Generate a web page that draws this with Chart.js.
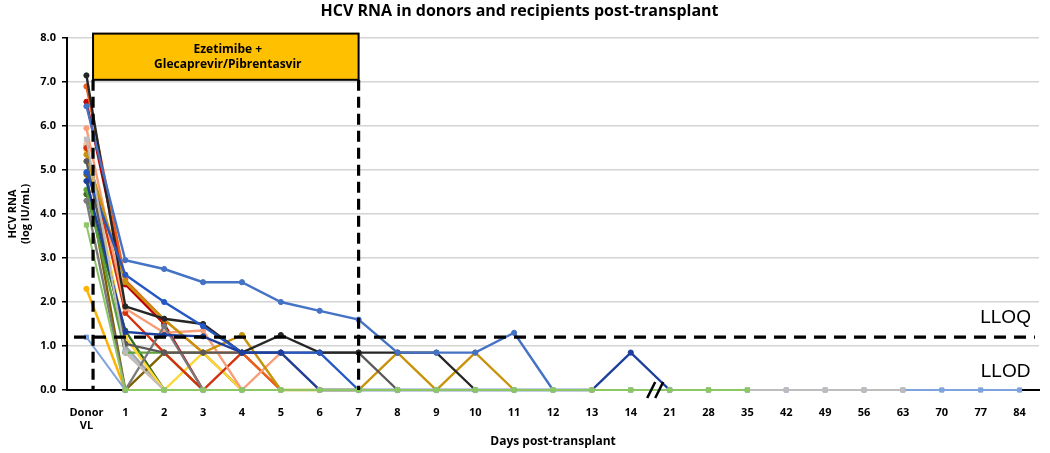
<!DOCTYPE html>
<html>
<head>
<meta charset="utf-8">
<script src="https://cdn.jsdelivr.net/npm/chart.js@4.4.1/dist/chart.umd.min.js"></script>
<style>
  html, body { margin: 0; padding: 0; background: #fff; }
  #wrap { width: 1050px; height: 453px; }
</style>
</head>
<body>
<div id="wrap"><canvas id="chart" width="1050" height="453"></canvas></div>
<script>
// x categories: donor viral load, then days post-transplant
const categories = [['Donor', 'VL'], '1', '2', '3', '4', '5', '6', '7', '8', '9', '10', '11', '12', '13', '14',
    '21', '28', '35', '42', '49', '56', '63', '70', '77', '84']
const yTicks = [0, 1, 2, 3, 4, 5, 6, 7, 8]

// log IU/mL per recipient (undetectable = 0)
const greenBase = [3.75, 0, 0, 0, 0, 0, 0, 0, 0, 0, 0, 0, 0, 0, 0, 0, 0, 0]
const grayBase = [5.7, 0.85, 0, 0, 0, 0, 0, 0, 0, 0, 0, 0, 0, 0, 0, 0, 0, 0, 0, 0, 0, 0]
const blueBase = [1.2, 0, 0, 0, 0, 0, 0, 0, 0, 0, 0, 0, 0, 0, 0, 0, 0, 0, 0, 0, 0, 0, 0, 0, 0]
const blueMid = [6.45, 2.95, 2.75, 2.45, 2.45, 2.0, 1.8, 1.6, 0.85, 0.85, 0.85, 1.3, 0]
const blueDeep = [4.95, 2.62, 2.0, 1.45, 0.85, 0.85, 0.85, 0]
const navy = [4.75, 1.32, 1.25, 1.22, 0.85, 0.85, 0, 0, 0, 0, 0, 0, 0, 0, 0.85, 0]
const black = [7.15, 1.9, 1.62, 1.5, 0.85, 1.25, 0.85, 0.85, 0.85, 0.85, 0]
const darkGray = [4.3, 0, 1.45, 0]
const midGray = [5.2, 1.05, 0.85, 0.85, 0.85, 0.85, 0.85, 0.85, 0]
const orange = [6.9, 2.5, 1.6, 0.85, 0.85, 0]
const red = [6.55, 2.4, 1.5, 0]
const red2 = [5.5, 1.75, 0.85, 0, 0.85, 0]
const salmon = [5.95, 1.85, 1.3, 1.35, 0, 0.85, 0]
const goldDark = [5.35, 2.45, 1.6, 0.85, 1.25, 0, 0, 0, 0.85, 0, 0.85, 0]
const yellow = [2.3, 0]
const yellow2 = [5.45, 1.2, 0, 0.85, 0]
const green = [4.55, 0.85, 0.85, 0]
const darkGreen = [4.45, 1.35, 0]
const brown = [4.9, 0, 0.85, 0.85, 0]
const lightOrange = [5.6, 0.85, 0]
const lightGray = [5.55, 1.0, 0]
const skyBlue = [5.5, 0.9, 0]

const lloq = 1.2

const seriesList = [
    { data: greenBase, color: '#8CC665', square: true },
    { data: grayBase, color: '#BDBDBD', square: true },
    { data: blueBase, color: '#7FA3DC', square: true },
    { data: blueMid, color: '#4472C4' },
    { data: navy, color: '#1C3F9C' },
    { data: blueDeep, color: '#2558C4' },
    { data: black, color: '#262626' },
    { data: midGray, color: '#5A5A5A' },
    { data: darkGray, color: '#7A7A7A' },
    { data: goldDark, color: '#C8920A' },
    { data: salmon, color: '#F79E78' },
    { data: orange, color: '#E8601C' },
    { data: red, color: '#C00000' },
    { data: red2, color: '#D2330E' },
    { data: yellow, color: '#FFB000' },
    { data: yellow2, color: '#FFD633' },
    { data: green, color: '#5BA33B' },
    { data: darkGreen, color: '#3A6B24' },
    { data: brown, color: '#7F6000' },
    { data: lightOrange, color: '#F8C29C' },
    { data: lightGray, color: '#A6A6A6' },
    { data: skyBlue, color: '#9DC3E6' }
]

const FONT = "'Open Sans', 'Liberation Sans', sans-serif"

// box, dashed limits, LLOQ/LLOD labels and axis break
const annotations = {
    id: 'annotations',
    afterDatasetsDraw(chart) {
        const { ctx, scales: { x, y } } = chart
        const x0 = x.getPixelForValue(0.17)
        const x7 = x.getPixelForValue(7)
        const top = y.getPixelForValue(8.1)
        const boxBottom = y.getPixelForValue(7.05)
        const zero = y.getPixelForValue(0)
        ctx.save()

        ctx.strokeStyle = '#000'
        ctx.lineWidth = 3.2
        ctx.setLineDash([11, 6])
        ctx.beginPath()
        ctx.moveTo(x0, boxBottom); ctx.lineTo(x0, zero)
        ctx.moveTo(x7, boxBottom); ctx.lineTo(x7, zero)
        ctx.stroke()

        ctx.setLineDash([12, 8])
        ctx.beginPath()
        const ly = y.getPixelForValue(lloq)
        ctx.moveTo(x.left + 7, ly); ctx.lineTo(x.right - 4, ly)
        ctx.stroke()
        ctx.setLineDash([])

        ctx.fillStyle = '#FFC000'
        ctx.fillRect(x0, top, x7 - x0, boxBottom - top)
        ctx.lineWidth = 2
        ctx.strokeRect(x0, top, x7 - x0, boxBottom - top)

        ctx.fillStyle = '#000'
        ctx.font = 'bold 12px ' + FONT
        ctx.textAlign = 'center'
        ctx.textBaseline = 'middle'
        const cx = (x0 + x7) / 2 + 2
        const cy = (top + boxBottom) / 2
        ctx.fillText('Ezetimibe +', cx, cy - 7.5)
        ctx.fillText('Glecaprevir/Pibrentasvir', cx, cy + 8)

        ctx.font = "19px 'Liberation Sans', sans-serif"
        const lx = x.getPixelForValue(24) - 14
        ctx.fillText('LLOQ', lx, y.getPixelForValue(1.64))
        ctx.fillText('LLOD', lx, y.getPixelForValue(0.41))

        // axis break between day 14 and day 21
        const bx = (x.getPixelForValue(14) + x.getPixelForValue(15)) / 2
        ctx.lineWidth = 2.5
        ctx.beginPath()
        ctx.moveTo(bx - 3, zero + 8); ctx.lineTo(bx + 5, zero - 8)
        ctx.moveTo(bx + 5, zero + 8); ctx.lineTo(bx + 13, zero - 8)
        ctx.stroke()
        ctx.restore()
    }
}

const canvas = document.querySelector('#chart')
const chart = new Chart(canvas, {
    type: 'line',
    data: {
        labels: categories,
        datasets: seriesList.map(s => ({
            data: s.data,
            borderColor: s.color,
            backgroundColor: s.color,
            borderWidth: s.square ? 2 : 2.4,
            pointStyle: s.square ? 'rect' : 'circle',
            pointRadius: s.square ? 3 : 2.6,
            pointBorderWidth: 1,
            tension: 0,
            fill: false,
            clip: 8
        }))
    },
    options: {
        responsive: false,
        animation: false,
        devicePixelRatio: 1,
        layout: { padding: { top: 0, right: 11, bottom: 0, left: 0 } },
        plugins: {
            legend: { display: false },
            tooltip: { enabled: false },
            title: {
                display: true,
                text: 'HCV RNA in donors and recipients post-transplant',
                color: '#000',
                font: { family: FONT, size: 16, weight: 'bold' },
                padding: { top: 2, bottom: 16.8 }
            }
        },
        scales: {
            x: {
                type: 'category',
                offset: true,
                grid: { display: false },
                border: { display: true, color: '#000', width: 2 },
                ticks: {
                    autoSkip: false,
                    maxRotation: 0,
                    color: '#000',
                    padding: 8,
                    font: { family: FONT, size: 11, weight: 'bold' }
                },
                title: {
                    display: true,
                    text: 'Days post-transplant',
                    color: '#000',
                    font: { family: FONT, size: 12, weight: 'bold' },
                    padding: { top: 0, bottom: 4 }
                },
                afterFit: s => { s.height = 63 }
            },
            y: {
                min: 0,
                max: 8,
                afterBuildTicks: s => { s.ticks = yTicks.map(v => ({ value: v })) },
                grid: { color: '#D4D4D4', lineWidth: 1.5, tickLength: 5, tickColor: '#000', tickWidth: 1.5 },
                border: { display: true, color: '#000', width: 2 },
                ticks: {
                    color: '#000',
                    padding: 6,
                    font: { family: FONT, size: 11, weight: 'bold' },
                    callback: v => v.toFixed(1)
                },
                title: {
                    display: true,
                    text: ['HCV RNA', '(log IU/mL)'],
                    color: '#000',
                    font: { family: FONT, size: 11, weight: 'bold' },
                    padding: { top: 6, bottom: 0 }
                },
                afterFit: s => { s.width = 67 }
            }
        }
    },
    plugins: [annotations]
})
</script>
</body>
</html>
